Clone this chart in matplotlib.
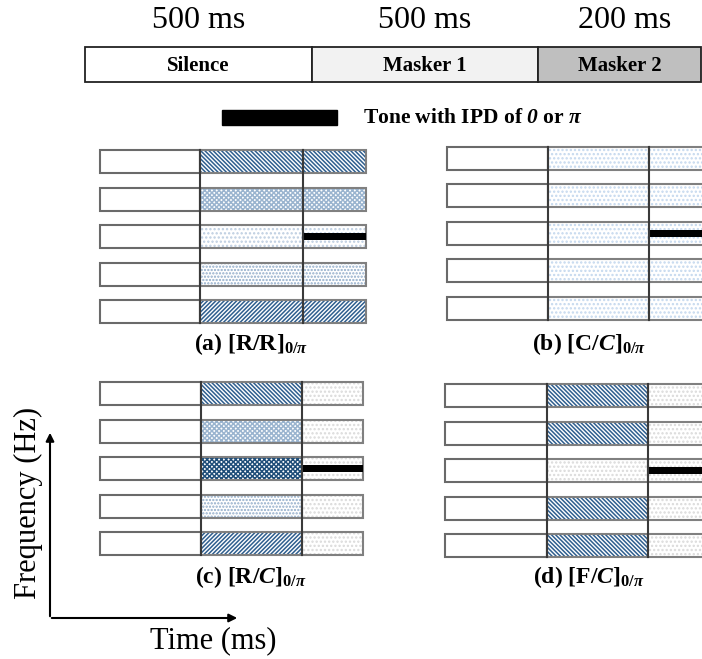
import matplotlib
matplotlib.use('Agg')
import matplotlib.pyplot as plt
from matplotlib.patches import Rectangle

plt.rcParams['font.family'] = 'Liberation Serif'
plt.rcParams['mathtext.fontset'] = 'custom'
plt.rcParams['mathtext.rm'] = 'Liberation Serif:bold'
plt.rcParams['mathtext.bf'] = 'Liberation Serif:bold'
plt.rcParams['mathtext.it'] = 'Liberation Serif:bold:italic'
plt.rcParams['mathtext.cal'] = 'Liberation Serif:bold:italic'
plt.rcParams['hatch.linewidth'] = 1.1

# datos del esquema
durations = ['500 ms', '500 ms', '200 ms']
segments = ['Silence', 'Masker 1', 'Masker 2']
segment_colors = ['white', '#f2f2f2', '#bfbfbf']
legend_text = r'Tone with IPD of $\mathcal{0}$ or $\pi$'

panel_labels = [r'(a) $[\mathrm{R}/\mathrm{R}]_{\mathrm{0}/\pi}$',
                r'(b) $[\mathrm{C}/\mathcal{C}]_{\mathrm{0}/\pi}$',
                r'(c) $[\mathrm{R}/\mathcal{C}]_{\mathrm{0}/\pi}$',
                r'(d) $[\mathrm{F}/\mathcal{C}]_{\mathrm{0}/\pi}$']
# patrones por fila (de arriba a abajo) para masker 1 y masker 2
masker1_a = ['diag_back', 'check_light', 'dots_faint', 'dots', 'diag_fwd']
masker2_a = ['diag_back', 'check_light', 'dots_faint', 'dots', 'diag_fwd']
masker1_b = ['dots_blue', 'dots_blue', 'dots_blue', 'dots_blue', 'dots_blue']
masker2_b = ['dots_blue', 'dots_blue', 'dots_blue', 'dots_blue', 'dots_blue']
masker1_c = ['diag_back', 'check_light', 'check_dark', 'dots', 'diag_fwd']
masker2_c = ['dots_gray', 'dots_gray', 'dots_gray', 'dots_gray', 'dots_gray']
masker1_d = ['diag_back', 'diag_back', 'dots_gray', 'diag_back', 'diag_back']
masker2_d = ['dots_gray', 'dots_gray', 'dots_gray', 'dots_gray', 'dots_gray']
tone_row = 2

styles = {
    'diag_back': ('\\' * 8, '#2f5f8f'),
    'diag_fwd': ('/' * 8, '#2f5f8f'),
    'check_light': ('x' * 7, '#9ab4cf'),
    'check_dark': ('x' * 7, '#1f4e79'),
    'dots': ('.....', '#8fabc9'),
    'dots_faint': ('....', '#bccde0'),
    'dots_blue': ('....', '#c4d8ee'),
    'dots_gray': ('....', '#dadada'),
}

# posiciones (pixeles) de cada panel
panels = [
    dict(cols=[100, 200, 303, 366], top=150, m1=masker1_a, m2=masker2_a, lx=251, ly=344),
    dict(cols=[447, 548, 649, 712], top=146.5, m1=masker1_b, m2=masker2_b, lx=589, ly=344),
    dict(cols=[100, 201, 302, 363], top=382, m1=masker1_c, m2=masker2_c, lx=251, ly=577),
    dict(cols=[445, 547, 648, 712], top=384, m1=masker1_d, m2=masker2_d, lx=589, ly=577),
]
row_step = 37.5
row_h = 23

fig = plt.figure(figsize=(7.02, 6.59), dpi=100)
ax = fig.add_axes([0, 0, 1, 1])
ax.set_xlim(0, 702)
ax.set_ylim(659, 0)
ax.axis('off')

# barra superior
top_edges = [85, 312, 538, 701]
for i in range(3):
    x0, x1 = top_edges[i], top_edges[i + 1]
    ax.add_patch(Rectangle((x0, 47), x1 - x0, 35, facecolor=segment_colors[i],
                           edgecolor='#222222', linewidth=1.3))
    ax.text((x0 + x1) / 2, 66, segments[i], ha='center', va='center',
            fontsize=15, fontweight='bold')
    ax.text((x0 + x1) / 2 + (5 if i == 2 else 0), 21, durations[i], ha='center',
            va='center', fontsize=23)

# leyenda
ax.add_patch(Rectangle((222, 110), 115, 15, facecolor='black', edgecolor='black'))
ax.text(363, 118, legend_text, ha='left', va='center', fontsize=15.5, fontweight='bold')

for p in panels:
    c = p['cols']
    for r in range(5):
        y = p['top'] + r * row_step
        ax.add_patch(Rectangle((c[0], y), c[1] - c[0], row_h, facecolor='white',
                               edgecolor='#6a6a6a', linewidth=1.5))
        for k, pat in ((1, p['m1'][r]), (2, p['m2'][r])):
            h, col = styles[pat]
            ax.add_patch(Rectangle((c[k], y), c[k + 1] - c[k], row_h, facecolor='white',
                                   edgecolor=col, hatch=h, linewidth=0))
            ax.add_patch(Rectangle((c[k], y), c[k + 1] - c[k], row_h, facecolor='none',
                                   edgecolor='#808080', linewidth=1.5))
        if r == tone_row:
            ax.add_patch(Rectangle((c[2], y + row_h / 2 - 3.5), c[3] - c[2], 7,
                                   facecolor='black', edgecolor='black', linewidth=0))
    y_end = p['top'] + 4 * row_step + row_h
    for k in (1, 2):
        ax.plot([c[k], c[k]], [p['top'], y_end], color='#3a3a3a', linewidth=1.5)

for p, lab in zip(panels, panel_labels):
    ax.text(p['lx'], p['ly'], lab, ha='center', va='center', fontsize=17,
            fontweight='bold')

# ejes de tiempo y frecuencia
ax.annotate('', xy=(50, 430), xytext=(50, 619),
            arrowprops=dict(arrowstyle='-|>', color='black', lw=1.5, mutation_scale=12))
ax.annotate('', xy=(240, 618), xytext=(49, 618),
            arrowprops=dict(arrowstyle='-|>', color='black', lw=1.5, mutation_scale=12))
ax.text(28, 503, 'Frequency (Hz)', rotation=90, ha='center', va='center', fontsize=22)
ax.text(213, 641, 'Time (ms)', ha='center', va='center', fontsize=22)

fig.savefig('out.png', dpi=100)
